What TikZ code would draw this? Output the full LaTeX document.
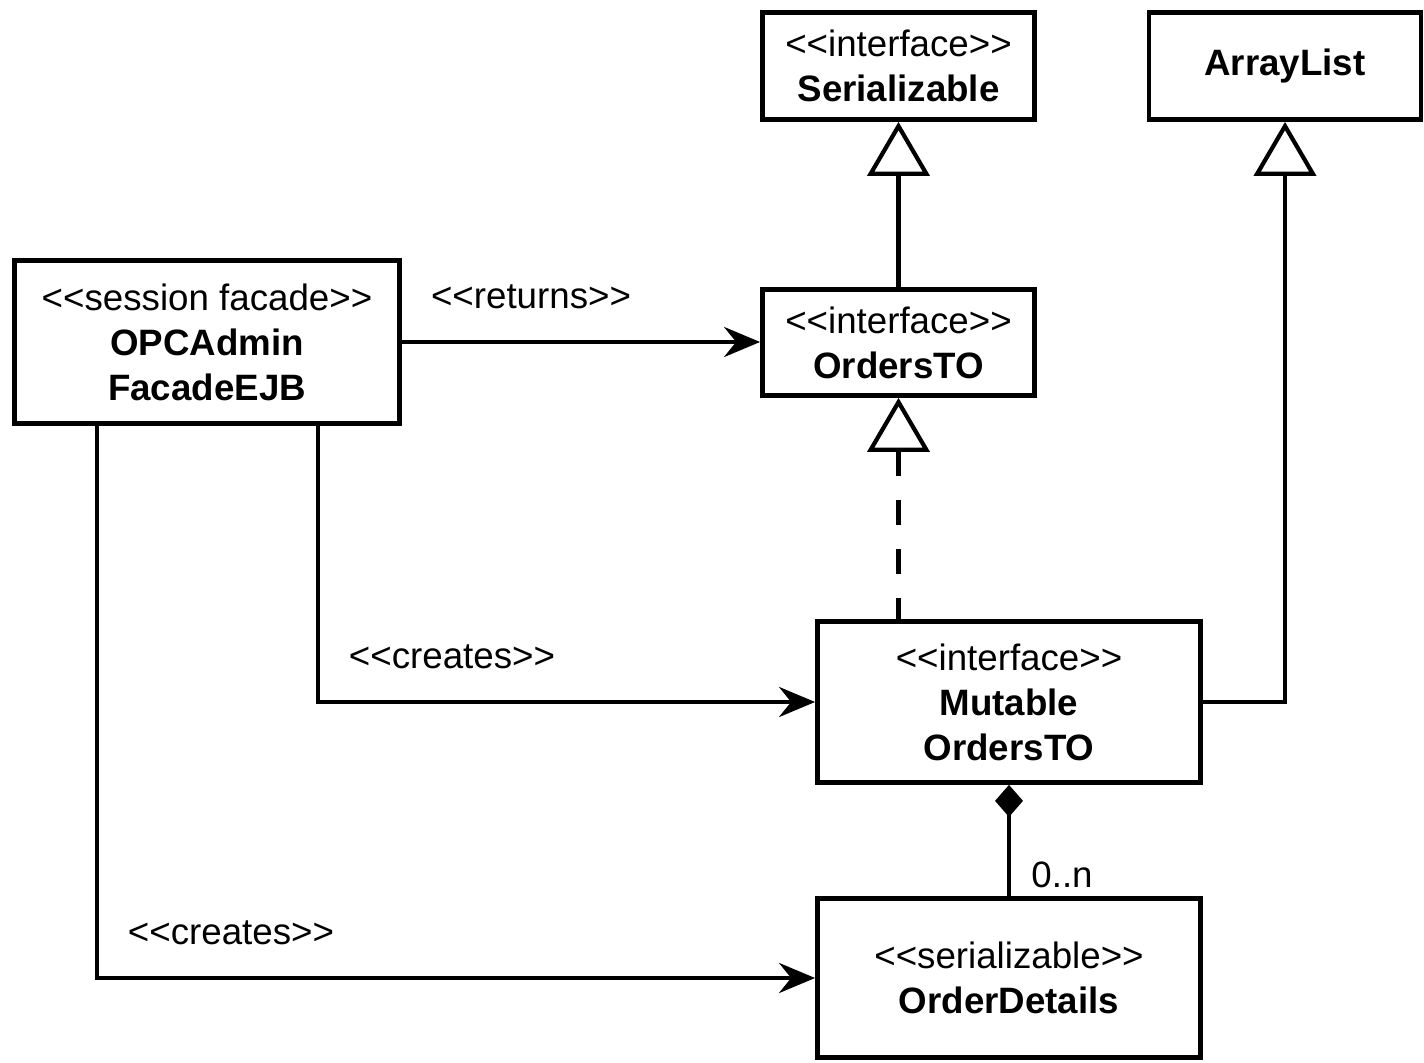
\documentclass[tikz,border=0pt]{standalone}
\usepackage{fontspec}
\setmainfont{Liberation Sans}[Ligatures=TeXOff]
\usetikzlibrary{arrows.meta}
\begin{document}
\begin{tikzpicture}[x=0.5pt,y=-0.5pt,
  every node/.style={font=\fontsize{18.35}{22.5}\selectfont, inner sep=0pt},
  umlbox/.style={draw, line width=2.4pt, align=center, fill=white},
  conn/.style={line width=2.1pt},
  gen/.style={-{Triangle[open,length=27pt,width=31pt,fill=white]}},
  dep/.style={-{Stealth[length=18pt,width=15pt,inset=6pt]}},
  comp/.style={{Diamond[length=16pt,width=14pt]}-},
  dashline/.style={dash pattern=on 12.5pt off 12pt, dash phase=2pt}
]
\useasboundingbox (0,0) rectangle (1424,1063);
\fill[white] (0,0) rectangle (1424,1063);

% boxes
\node[umlbox, minimum width=136pt, minimum height=53.5pt] (ser) at (898.5,66)
  {<<interface>>\\\textbf{Serializable}};
\node[umlbox, minimum width=136pt, minimum height=53.5pt] (arr) at (1285,66)
  {\textbf{ArrayList}};
\node[umlbox, minimum width=192.5pt, minimum height=81.5pt] (opc) at (207,342)
  {<<session facade>>\\\textbf{OPCAdmin}\\\textbf{FacadeEJB}};
\node[umlbox, minimum width=136pt, minimum height=53pt] (ord) at (898.5,342.5)
  {<<interface>>\\\textbf{OrdersTO}};
\node[umlbox, minimum width=191.5pt, minimum height=80.5pt] (mut) at (1009,702)
  {<<interface>>\\\textbf{Mutable}\\\textbf{OrdersTO}};
\node[umlbox, minimum width=191.5pt, minimum height=79.5pt] (det) at (1009,978)
  {<<serializable>>\\\textbf{OrderDetails}};

% labels
\node (lret) at (531,297) {<<returns>>};
\node (lcr1) at (452,657) {<<creates>>};
\node (lcr2) at (231,933) {<<creates>>};
\node (lmul) at (1062,875) {0..n};

% helper coordinates for connector columns
\coordinate (xa) at (318,0);
\coordinate (xb) at (97,0);

% connectors
\draw[conn, gen] (ord.north) -- (ser.south);
\draw[conn, dashline, gen] (ord.south |- mut.north) -- (ord.south);
\draw[conn, gen] (mut.east) -| (arr.south);
\draw[conn, dep] (opc.east) -- (opc.east -| ord.west);
\draw[conn, dep] (opc.south -| xa) |- (mut.west);
\draw[conn, dep] (opc.south -| xb) |- (det.west);
\draw[conn, comp] (mut.south) -- (det.north);
\end{tikzpicture}
\end{document}
